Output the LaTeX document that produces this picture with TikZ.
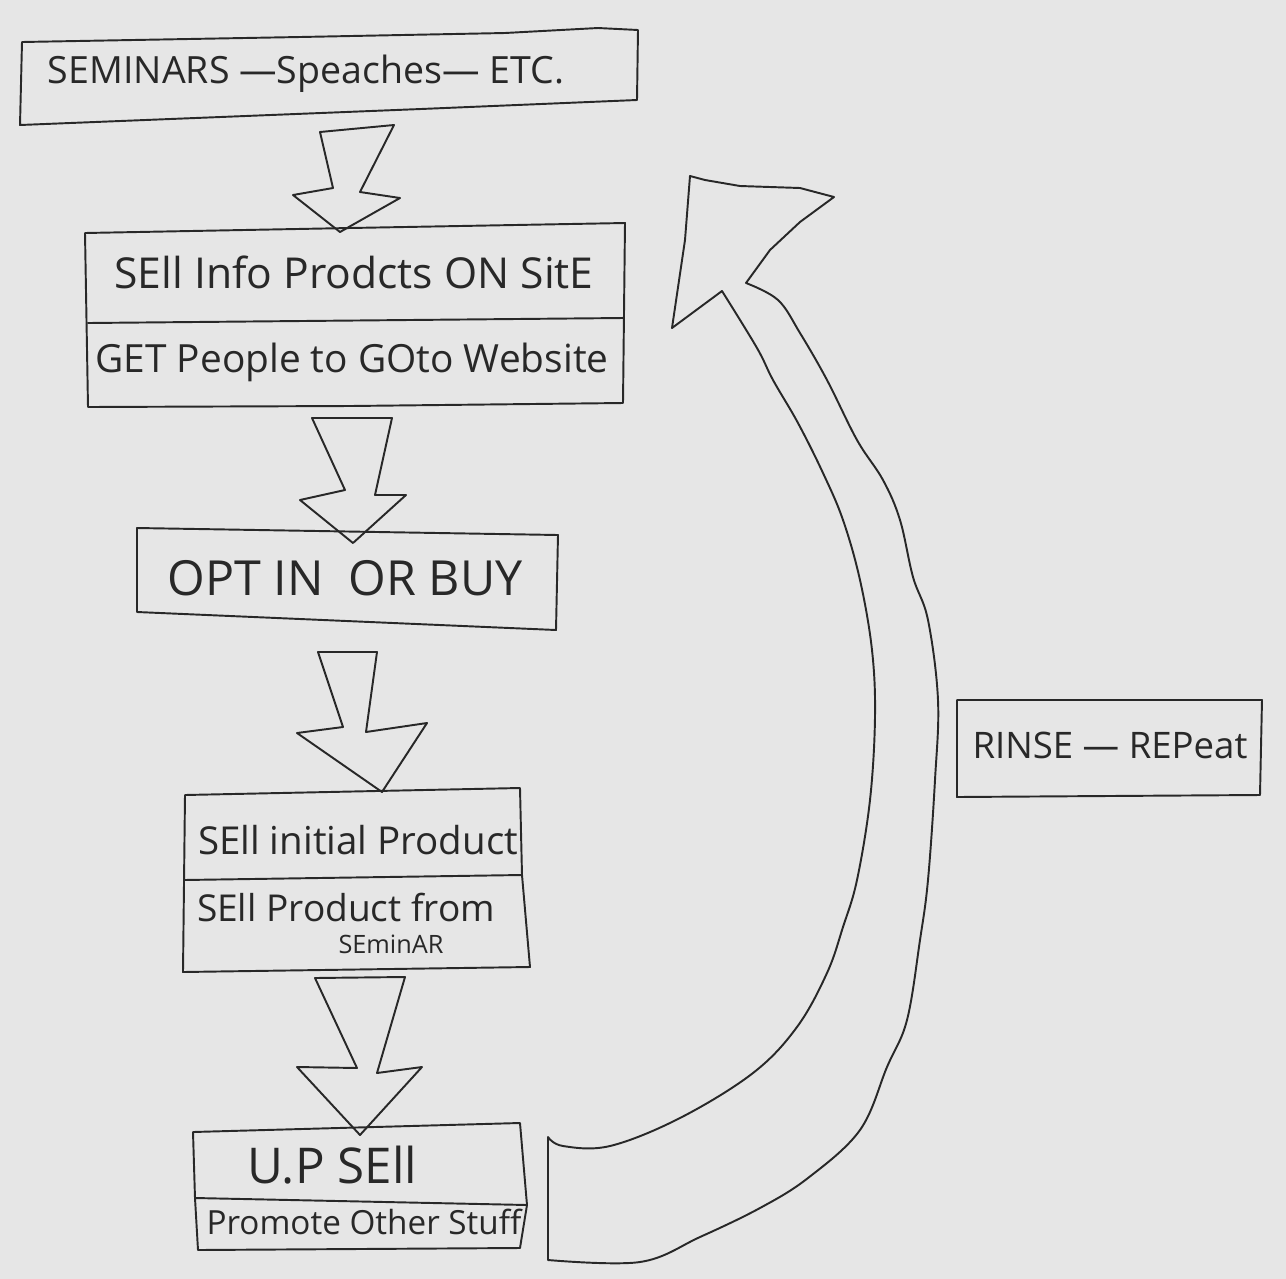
\documentclass[tikz,border=0pt]{standalone}
\usepackage{fontspec}
\usepackage{graphicx}
\setmainfont{Open Sans}
\newcommand{\fitw}[2]{\resizebox{#1}{!}{#2}}
\definecolor{paper}{RGB}{230,230,230}
\definecolor{pen}{RGB}{40,40,40}
\begin{document}
\begin{tikzpicture}[x=0.02cm,y=-0.02cm,
  ink/.style={draw=pen,line width=1.1pt,line join=round,line cap=round},
  txt/.style={inner sep=0pt,text=pen}]
\fill[paper] (0,0) rectangle (1286,1279);
\useasboundingbox (0,0) rectangle (1286,1279);

% ---- boxes ----
\draw[ink] (22,42) -- (300,37) -- (505,33) -- (598,28) -- (638,30) -- (637,100) -- (421,109) -- (20,125) -- cycle;
\node[txt] (seminars) at (306,74) {\fitw{10.32cm}{SEMINARS —Speaches— ETC.}};

\draw[ink] (85,233) -- (350,228) -- (625,223) -- (623,403) -- (350,406) -- (88,407) -- cycle;
\draw[ink] (88,323) -- (623,318);
\node[txt] (sellinfo) at (354,272) {\fitw{9.58cm}{SEll Info Prodcts ON SitE}};
\node[txt] (getpeople) at (352,362) {\fitw{10.26cm}{GET People to GOto Website}};

\draw[ink] (137,528) -- (558,535) -- (556,630) -- (137,612) -- cycle;
\node[txt] (optin) at (345,578) {\fitw{7.1cm}{OPT IN\ \ OR BUY}};

\draw[ink] (185,795) -- (520,788) -- (522,875) -- (530,967) -- (183,972) -- cycle;
\draw[ink] (184,880) -- (522,875);
\node[txt] (sellinit) at (358,840) {\fitw{6.4cm}{SEll initial Product}};
\node[txt] (sellprod) at (346,907) {\fitw{5.96cm}{SEll Product from}};
\node[txt] (seminar) at (391,944) {\fitw{2.1cm}{SEminAR}};

\draw[ink] (193,1132) -- (520,1123) -- (527,1205) -- (520,1248) -- (198,1250) -- (195,1198) -- cycle;
\draw[ink] (195,1198) -- (527,1205);
\node[txt] (upsell) at (332,1165) {\fitw{3.4cm}{U.P SEll}};
\node[txt] (promote) at (364,1222) {\fitw{6.3cm}{Promote Other Stuff}};

\draw[ink] (957,700) -- (1262,700) -- (1260,795) -- (957,797) -- cycle;
\node[txt] (rinse) at (1110,745) {\fitw{5.5cm}{RINSE — REPeat}};

% ---- block arrows ----
\draw[ink] (320,132) -- (394,125) -- (360,192) -- (400,198) -- (340,232) -- (293,195) -- (333,188) -- cycle;
\draw[ink] (312,418) -- (392,418) -- (375,495) -- (406,495) -- (353,543) -- (300,500) -- (345,490) -- cycle;
\draw[ink] (318,652) -- (377,652) -- (366,732) -- (427,723) -- (382,792) -- (297,733) -- (343,727) -- cycle;
\draw[ink] (315,978) -- (405,977) -- (377,1073) -- (422,1067) -- (360,1135) -- (297,1067) -- (357,1068) -- cycle;

% ---- big return arrow ----
\draw[ink] (548,1137) -- (548,1260)
  -- plot[smooth,tension=0.6] coordinates {(548,1260) (640,1262) (700,1237) (760,1208) (808,1178) (860,1130) (887,1067) (907,1020) (920,940) (928,880) (935,780) (938,700) (928,620) (913,577) (900,520) (883,480) (857,440) (827,380) (800,333) (778,300) (746,283)}
  -- (770,250) -- (800,222) -- (834,197) -- (800,188) -- (740,186) -- (705,180) -- (690,176) -- (685,240) -- (672,328) -- (722,291)
  -- plot[smooth,tension=0.6] coordinates {(722,291) (757,348) (773,380) (798,423) (823,473) (843,520) (860,580) (872,650) (875,717) (870,800) (857,880) (843,927) (827,973) (797,1027) (753,1073) (680,1118) (610,1146) (563,1146) (548,1137)};
\end{tikzpicture}
\end{document}
